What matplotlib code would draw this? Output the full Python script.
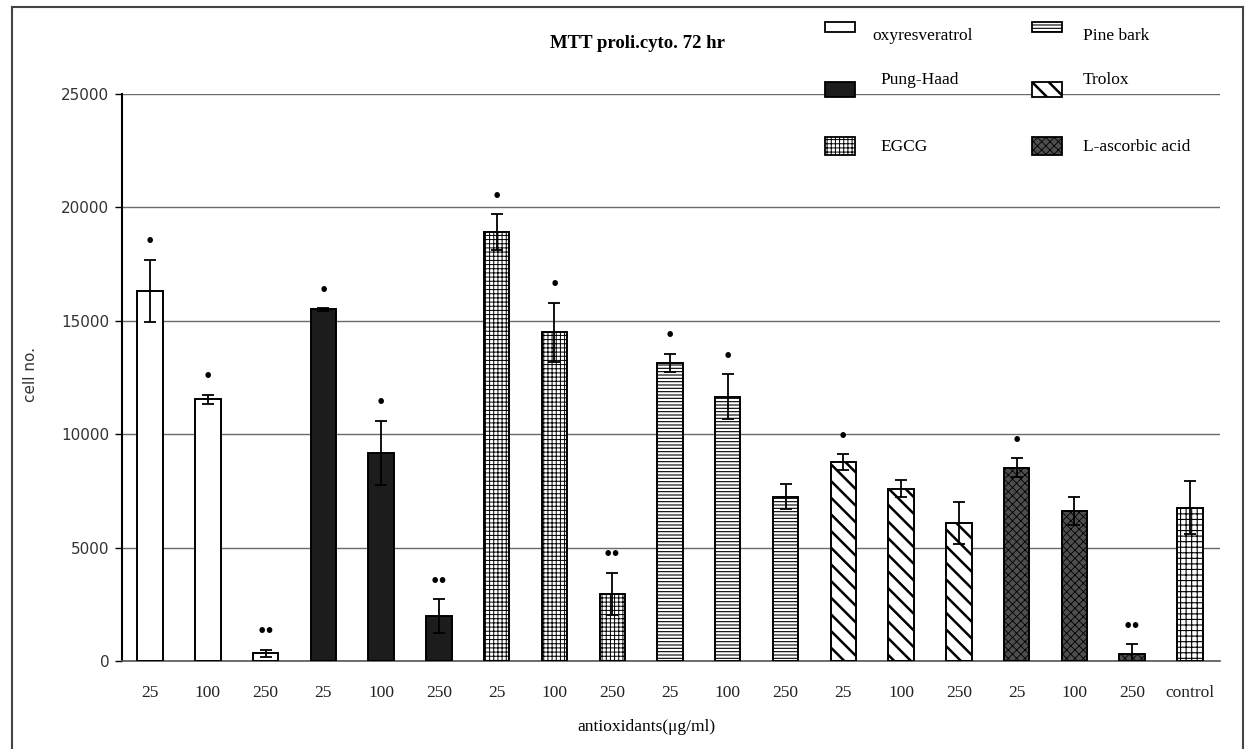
import matplotlib
matplotlib.use("Agg")
import matplotlib.pyplot as plt
from matplotlib.patches import Rectangle
from matplotlib.lines import Line2D
import numpy as np

# ---- data -------------------------------------------------------------
groups = ["oxyresveratrol", "Pung-Haad", "EGCG", "Pine bark", "Trolox",
          "L-ascorbic acid", "control"]
doses = ["25", "100", "250"]
tick_labels = doses * 6 + ["control"]
bar_group = [0, 0, 0, 1, 1, 1, 2, 2, 2, 3, 3, 3, 4, 4, 4, 5, 5, 5, 6]
cell_mean = [16330, 11540, 340, 15500, 9170, 1970, 18900, 14500, 2950,
             13150, 11650, 7250, 8780, 7600, 6080, 8520, 6610, 330, 6760]
cell_err = [1370, 190, 150, 60, 1420, 750, 800, 1300, 930,
            400, 1000, 570, 340, 360, 940, 420, 600, 400, 1180]
signif = ["*", "*", "**", "*", "*", "**", "*", "*", "**",
          "*", "*", "", "*", "", "", "*", "", "**", ""]
y_ticks = [0, 5000, 10000, 15000, 20000, 25000]

# ---- fill styles per treatment ---------------------------------------
styles = {
    "oxyresveratrol": dict(fc="white", hatch=None, hlw=0.8),
    "Pung-Haad": dict(fc="#1c1c1c", hatch=None, hlw=0.8),
    "EGCG": dict(fc="white", hatch="++++", hlw=0.7),
    "Pine bark": dict(fc="white", hatch="-----", hlw=0.8),
    "Trolox": dict(fc="white", hatch="\\\\", hlw=1.8),
    "L-ascorbic acid": dict(fc="#4e4e4e", hatch="xxxx", hlw=0.6),
    "control": dict(fc="white", hatch="+++", hlw=0.8),
}

W, H = 1248, 749
fig = plt.figure(figsize=(W / 100, H / 100), dpi=100)
fig.patch.set_facecolor("white")


def fx(px):
    return px / W


def fy(py):
    return 1 - py / H


ax = fig.add_axes([fx(122), fy(661), fx(1220) - fx(122), fy(94) - fy(661)])
x = np.arange(len(cell_mean))

for xi, m, g in zip(x, cell_mean, bar_group):
    st = styles[groups[g]]
    with plt.rc_context({"hatch.linewidth": st["hlw"]}):
        b = ax.bar(xi, m, width=0.44, facecolor=st["fc"], edgecolor="black",
                   linewidth=1.4, hatch=st["hatch"], zorder=3)
    for p in b.patches:
        if hasattr(p, "set_hatch_linewidth"):
            p.set_hatch_linewidth(st["hlw"])

ax.errorbar(x, cell_mean, yerr=cell_err, fmt="none", ecolor="black",
            elinewidth=1.3, capsize=4.5, capthick=1.3, zorder=4)

for xi, m, e, s in zip(x, cell_mean, cell_err, signif):
    if s:
        ax.text(xi, m + e + 750, "\u2022" * len(s), ha="center", va="center",
                fontsize=17, family="Liberation Serif", zorder=5)

ax.set_xlim(-0.485, 18.52)
ax.set_ylim(0, 25000)
ax.set_yticks(y_ticks)
ax.set_yticklabels([str(v) for v in y_ticks], family="DejaVu Sans",
                   fontsize=11, color="#333333")
ax.set_xticks(x)
ax.set_xticklabels(tick_labels, family="Liberation Serif", fontsize=12.5,
                   color="#222222")
ax.tick_params(axis="x", length=0, pad=17)
ax.tick_params(axis="y", length=5, width=1.0, pad=4, direction="out")

ax.yaxis.grid(True, color="#6a6a6a", linewidth=1.0, zorder=0)
ax.set_axisbelow(True)
for side in ("top", "right"):
    ax.spines[side].set_visible(False)
ax.spines["left"].set_linewidth(1.5)
ax.spines["bottom"].set_color("#555555")
ax.spines["bottom"].set_linewidth(1.2)

# ---- titles and axis names -------------------------------------------
fig.text(fx(637), fy(44), "MTT proli.cyto. 72 hr", ha="center", va="center",
         family="Liberation Serif", fontweight="bold", fontsize=13.5)
fig.text(fx(31), fy(375), "cell no.", rotation=90, ha="center", va="center",
         family="DejaVu Sans", fontsize=11, color="#333333")
fig.text(fx(646), fy(727), "antioxidants(\u03bcg/ml)", ha="center",
         va="center", family="Liberation Serif", fontsize=12.5)

# ---- legend ----------------------------------------------------------
legend_items = [
    ("oxyresveratrol", 825, 22, 10, 872, 36),
    ("Pine bark", 1032, 22, 10, 1083, 36),
    ("Pung-Haad", 825, 82, 15, 880, 80),
    ("Trolox", 1032, 82, 15, 1083, 80),
    ("EGCG", 825, 137, 18, 880, 147),
    ("L-ascorbic acid", 1032, 137, 18, 1083, 147),
]
for name, px, py, ph, tx, ty in legend_items:
    st = styles[name]
    with plt.rc_context({"hatch.linewidth": st["hlw"]}):
        r = Rectangle((fx(px), fy(py + ph)), fx(30), ph / H,
                      transform=fig.transFigure, facecolor=st["fc"],
                      edgecolor="black", linewidth=1.3, hatch=st["hatch"],
                      zorder=5)
    if hasattr(r, "set_hatch_linewidth"):
        r.set_hatch_linewidth(st["hlw"])
    fig.add_artist(r)
    fig.text(fx(tx), fy(ty), name, ha="left", va="center",
             family="Liberation Serif", fontsize=12.5)

# ---- page frame ------------------------------------------------------
frame_kw = dict(transform=fig.transFigure, color="#444444", linewidth=1.5)
fig.add_artist(Line2D([fx(12), fx(12)], [0, fy(7)], **frame_kw))
fig.add_artist(Line2D([fx(12), fx(1243)], [fy(7), fy(7)], **frame_kw))
fig.add_artist(Line2D([fx(1243), fx(1243)], [0, fy(7)], **frame_kw))

fig.savefig("out.png", dpi=100, facecolor="white")
